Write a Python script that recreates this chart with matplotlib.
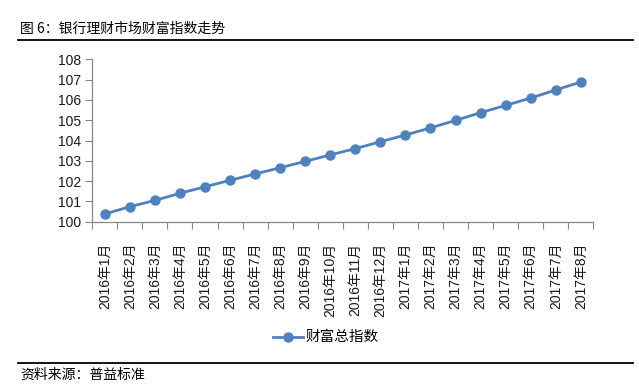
import matplotlib
matplotlib.use("Agg")
import matplotlib.pyplot as plt
from matplotlib.lines import Line2D

plt.rcParams['font.family'] = ['Noto Sans CJK SC', 'DejaVu Sans']

title = "图 6：银行理财市场财富指数走势"
source = "资料来源：普益标准"
series_name = "财富总指数"
months = ["2016年1月", "2016年2月", "2016年3月", "2016年4月", "2016年5月", "2016年6月",
          "2016年7月", "2016年8月", "2016年9月", "2016年10月", "2016年11月", "2016年12月",
          "2017年1月", "2017年2月", "2017年3月", "2017年4月", "2017年5月", "2017年6月",
          "2017年7月", "2017年8月"]
values = [100.38, 100.74, 101.05, 101.40, 101.72, 102.04, 102.35, 102.66, 102.97, 103.29,
          103.60, 103.94, 104.27, 104.62, 104.99, 105.37, 105.73, 106.09, 106.49, 106.88]
y_ticks = [100, 101, 102, 103, 104, 105, 106, 107, 108]

W, H = 639, 390
fig = plt.figure(figsize=(W / 100, H / 100), dpi=100)
fig.patch.set_facecolor('white')

left, right = 92.3, 593.3
top, bottom = 59.3, 221.7
ax = fig.add_axes([left / W, 1 - bottom / H, (right - left) / W, (bottom - top) / H])

x = list(range(len(months)))
color = '#4F81BD'
ax.plot(x, values, color=color, lw=2, marker='o', markersize=6.5, zorder=3, clip_on=False)

num_fam = ['Liberation Sans', 'Noto Sans CJK SC']
ax.set_xlim(-0.5, len(months) - 0.5)
ax.set_ylim(100, 108)
ax.set_yticks(y_ticks)
ax.set_yticklabels([str(v) for v in y_ticks], fontsize=10, color='#1a1a1a', family=num_fam)

ax.set_xticks(x)
ax.set_xticklabels(months, rotation=90, fontsize=10, color='#1a1a1a', family=num_fam)
ax.set_xticks([i - 0.5 for i in range(len(months) + 1)], minor=True)
ax.tick_params(axis='x', which='major', length=0, pad=15)
ax.tick_params(axis='x', which='minor', length=5, color='#868686', width=0.8)
ax.tick_params(axis='y', which='major', length=5, color='#868686', width=0.8, pad=3)

for s in ['top', 'right']:
    ax.spines[s].set_visible(False)
for s in ['left', 'bottom']:
    ax.spines[s].set_color('#868686')
    ax.spines[s].set_linewidth(0.9)

# Title and separators
fig.text(20 / W, 1 - 29 / H, title, fontsize=10, color='black', va='center', ha='left')
fig.add_artist(Line2D([18 / W, 633 / W], [1 - 40 / H, 1 - 40 / H], color='black', lw=1.3))
fig.add_artist(Line2D([18 / W, 633 / W], [1 - 363.3 / H, 1 - 363.3 / H], color='black', lw=1.3))
fig.text(20 / W, 1 - 375 / H, source, fontsize=10, color='black', va='center', ha='left')

# Legend
ly = 1 - 337 / H
fig.add_artist(Line2D([273 / W, 303 / W], [ly, ly], color=color, lw=2))
fig.add_artist(Line2D([288 / W], [ly], color=color, marker='o', markersize=6.5, lw=0))
fig.text(306 / W, ly, series_name, fontsize=10.5, color='black', va='center', ha='left')

fig.savefig('out.png', dpi=100, facecolor='white')
